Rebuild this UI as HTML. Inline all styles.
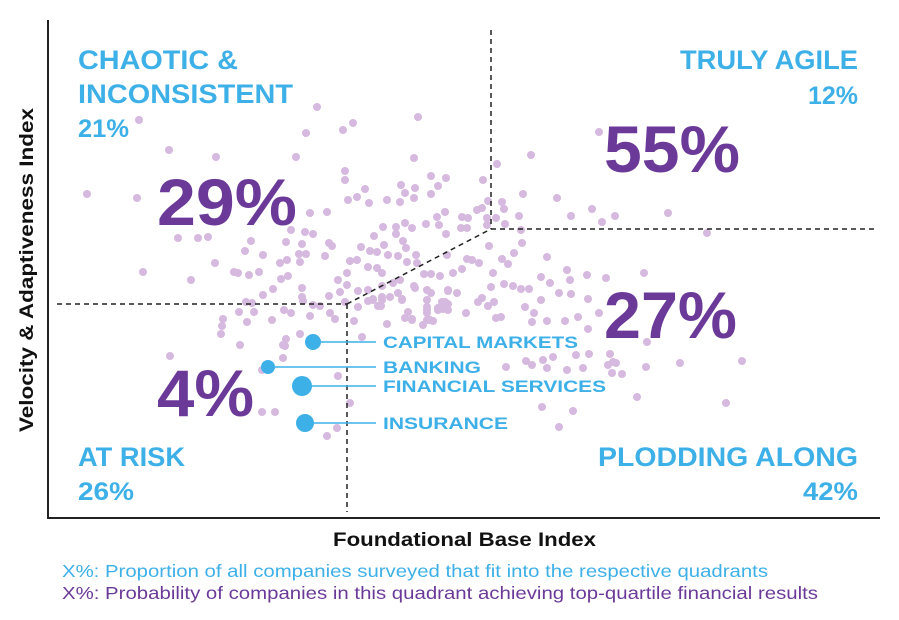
<!DOCTYPE html>
<html><head><meta charset="utf-8">
<style>
html,body{margin:0;padding:0;background:#fff;}
svg{display:block;font-family:"Liberation Sans",sans-serif;}
</style></head>
<body>
<svg id="chart" width="899" height="620" viewBox="0 0 899 620">
  <line x1="48" y1="20" x2="48" y2="518" stroke="#222" stroke-width="2"/>
  <line x1="47" y1="518" x2="880" y2="518" stroke="#222" stroke-width="2"/>
  <g id="dots"></g>
  <g stroke="#222" stroke-width="1.5" stroke-dasharray="5,4" fill="none">
    <line x1="57" y1="304" x2="347" y2="304"/>
    <line x1="347" y1="304" x2="347" y2="512"/>
    <line x1="347" y1="304" x2="491" y2="229"/>
    <line x1="491" y1="30" x2="491" y2="229"/>
    <line x1="491" y1="229" x2="875" y2="229"/>
  </g>
  <g id="industries"></g>
  <g font-weight="bold" fill="#3DB0E8" font-size="27">
    <text x="78" y="69" textLength="160" lengthAdjust="spacingAndGlyphs">CHAOTIC &amp;</text>
    <text x="78" y="103" textLength="215" lengthAdjust="spacingAndGlyphs">INCONSISTENT</text>
    <text x="78" y="137" font-size="25" textLength="51" lengthAdjust="spacingAndGlyphs">21%</text>
    <text x="680" y="69" textLength="178" lengthAdjust="spacingAndGlyphs">TRULY AGILE</text>
    <text x="808" y="104" font-size="25" textLength="50" lengthAdjust="spacingAndGlyphs">12%</text>
    <text x="78" y="466" textLength="107" lengthAdjust="spacingAndGlyphs">AT RISK</text>
    <text x="78" y="500" font-size="25" textLength="56" lengthAdjust="spacingAndGlyphs">26%</text>
    <text x="598" y="466" textLength="260" lengthAdjust="spacingAndGlyphs">PLODDING ALONG</text>
    <text x="803" y="500" font-size="25" textLength="55" lengthAdjust="spacingAndGlyphs">42%</text>
  </g>
  <g font-weight="bold" fill="#6B3A98" font-size="66">
    <text x="157" y="225" textLength="140" lengthAdjust="spacingAndGlyphs">29%</text>
    <text x="604" y="172" textLength="136" lengthAdjust="spacingAndGlyphs">55%</text>
    <text x="604" y="338" textLength="133" lengthAdjust="spacingAndGlyphs">27%</text>
    <text x="157" y="416" textLength="97" lengthAdjust="spacingAndGlyphs">4%</text>
  </g>
  <text x="333" y="546" font-weight="bold" font-size="19" fill="#111" textLength="263" lengthAdjust="spacingAndGlyphs">Foundational Base Index</text>
  <text transform="translate(33,432) rotate(-90)" font-weight="bold" font-size="19" fill="#111" textLength="324" lengthAdjust="spacingAndGlyphs">Velocity &amp; Adaptiveness Index</text>
  <text x="62" y="577" font-size="17.5" fill="#3DB0E8" textLength="706" lengthAdjust="spacingAndGlyphs">X%: Proportion of all companies surveyed that fit into the respective quadrants</text>
  <text x="62" y="599" font-size="17.5" fill="#6B3A98" textLength="756" lengthAdjust="spacingAndGlyphs">X%: Probability of companies in this quadrant achieving top-quartile financial results</text>
</svg>
<script>
// Foundational base index (x) and velocity index (y), in index units
const baseIndex = [269,91,370,305,295,258,121,168,248,366,297,297,353,383,398,317,367,390,39,89,309,300,321,339,352,366,383,262,279,389,397,130,150,160,203,243,257,265,238,254,281,284,335,348,357,364,378,391,326,348,355,398,197,215,239,251,258,277,313,322,336,329,340,350,368,358,167,232,252,302,309,320,329,359,369,399,95,186,190,201,211,240,233,299,334,376,383,392,405,143,225,254,290,299,320,334,345,352,367,379,400,215,254,281,292,310,325,334,354,379,397,198,204,255,265,272,297,390,400,191,206,236,243,262,282,310,333,360,379,175,199,224,287,306,357,364,382,339,375,173,252,314,238,237,483,449,435,357,440,454,475,509,544,523,567,620,554,659,456,429,434,471,457,448,439,439,414,420,413,419,473,474,441,466,499,454,460,419,424,431,414,445,519,539,558,596,493,502,522,456,465,473,481,443,511,523,540,493,477,486,499,517,530,551,540,484,448,453,440,430,434,418,446,409,400,383,394,400,379,379,395,390,364,379,385,366,350,342,334,325,320,354,330,599,562,565,560,568,564,574,528,541,505,495,478,484,458,499,519,535,598,632,694,589,678,494,525,511,290,302,289,551,174,192,214,214,227,235,235,279,122];
const velocityIndex = [411,398,401,395,388,385,368,361,361,360,347,338,333,342,340,329,330,332,324,320,321,318,315,318,316,320,324,305,306,301,306,280,280,281,277,288,286,284,276,274,275,272,291,291,295,290,294,293,282,284,277,284,267,263,258,264,264,262,271,267,273,266,263,262,263,270,255,255,256,257,258,251,250,256,255,263,246,246,245,243,246,242,239,245,245,244,244,242,245,238,229,230,238,233,228,232,235,238,230,228,228,223,221,222,226,227,218,221,219,218,216,216,215,217,213,212,216,210,208,206,206,208,205,202,205,211,212,206,208,199,196,198,199,197,200,198,198,194,193,184,184,181,179,172,363,354,338,325,317,316,324,320,309,302,302,305,296,285,309,308,310,302,294,300,300,293,301,300,290,290,288,275,272,265,261,259,254,259,258,255,249,245,248,243,240,245,241,235,238,234,232,229,229,231,225,224,219,218,211,205,197,197,201,205,189,196,200,201,212,216,220,205,216,225,227,225,216,214,211,205,209,208,199,198,197,232,225,221,218,219,217,218,212,176,164,156,153,155,145,144,163,164,161,158,157,153,151,150,148,150,151,155,157,121,115,111,107,91,142,115,90,386,192,173,148,106,106,173,160,82,162];
// Industry markers
const industries = ["CAPITAL MARKETS","BANKING","FINANCIAL SERVICES","INSURANCE"];
const industryBase = [265,220,254,257];
const industryVelocity = [176,151,132,95];
const industrySize = [8,7,10,9];
const industryLabelWidth = [195,98,223,125];

const X0 = 48, Y0 = 518;
function xScale(v){ return X0 + v; }
function yScale(v){ return Y0 - v; }
const NS = "http://www.w3.org/2000/svg";
const dots = document.getElementById('dots');
for (let i = 0; i < baseIndex.length; i++) {
  const c = document.createElementNS(NS, 'circle');
  c.setAttribute('cx', xScale(baseIndex[i]));
  c.setAttribute('cy', yScale(velocityIndex[i]));
  c.setAttribute('r', 4);
  c.setAttribute('fill', '#D6B9DF');
  
  
  dots.appendChild(c);
}
const ind = document.getElementById('industries');
for (let i = 0; i < industries.length; i++) {
  const cx = xScale(industryBase[i]), cy = yScale(industryVelocity[i]);
  const l = document.createElementNS(NS, 'line');
  l.setAttribute('x1', cx); l.setAttribute('y1', cy);
  l.setAttribute('x2', 376); l.setAttribute('y2', cy);
  l.setAttribute('stroke', '#3DB0E8'); l.setAttribute('stroke-width', '1.5');
  
  
  ind.appendChild(l);
  const c = document.createElementNS(NS, 'circle');
  c.setAttribute('cx', cx); c.setAttribute('cy', cy);
  c.setAttribute('r', industrySize[i]);
  c.setAttribute('fill', '#3DB0E8');
  
  
  ind.appendChild(c);
  const t = document.createElementNS(NS, 'text');
  t.setAttribute('x', 383); t.setAttribute('y', cy + 6);
  t.setAttribute('font-size', '17'); t.setAttribute('font-weight', 'bold');
  t.setAttribute('fill', '#3DB0E8');
  t.setAttribute('textLength', industryLabelWidth[i]);
  t.setAttribute('lengthAdjust', 'spacingAndGlyphs');
  t.textContent = industries[i];
  
  
  ind.appendChild(t);
}
</script>
</body></html>
